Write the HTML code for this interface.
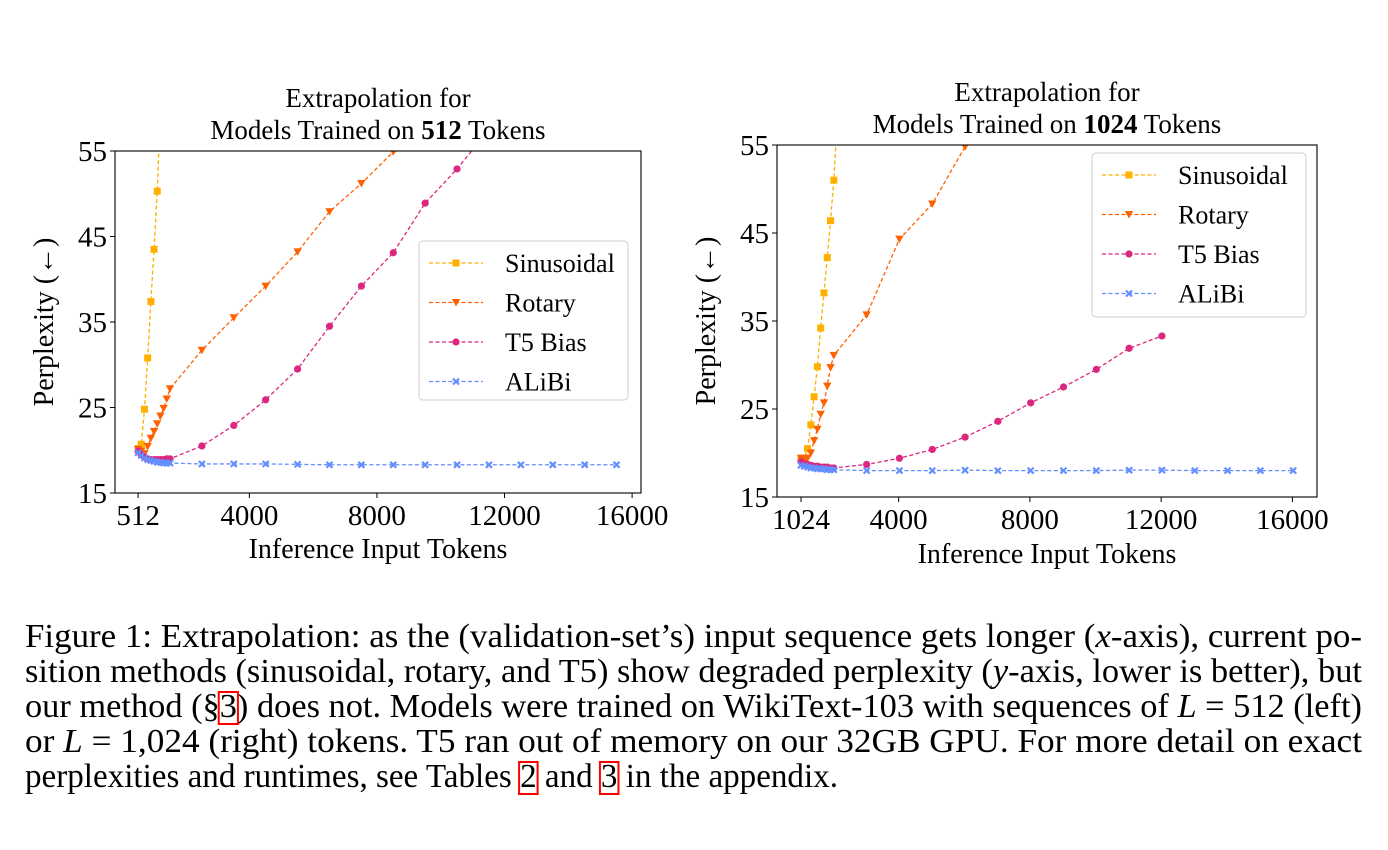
<!DOCTYPE html>
<html><head><meta charset="utf-8"><style>
html,body{margin:0;padding:0;background:#fff;}
svg{display:block;font-family:"Liberation Serif","Times New Roman",serif;}
svg text{font-family:"Liberation Serif","Times New Roman",serif;}
</style></head><body>
<svg id="fig" width="1388" height="850" viewBox="0 0 1388 850">
<g id="capg"></g>
</svg>
<script>
// ---- Left panel data (trained on 512) ----
const L_sinX = [512,612,712,812,912,1012,1112,1212];
const L_sinY = [20.2,20.7,24.8,30.8,37.4,43.5,50.3,60];
const L_rotX = [512,612,712,812,912,1012,1112,1212,1312,1412,1512,2512,3512,4512,5512,6512,7512,8512,9512];
const L_rotY = [20.1,19.9,19.6,20.45,21.4,22.2,23.1,24.0,24.9,26.0,27.2,31.7,35.5,39.2,43.2,47.9,51.2,54.9,59];
const L_t5X = [512,612,712,812,912,1012,1112,1212,1312,1412,1512,2512,3512,4512,5512,6512,7512,8512,9512,10512,11512];
const L_t5Y = [19.9,19.5,19.2,19.0,18.9,18.9,18.9,18.9,18.9,19.0,19.0,20.5,22.9,25.9,29.5,34.5,39.2,43.1,48.9,52.9,57.5];
const L_aliX = [512,612,712,812,912,1012,1112,1212,1312,1412,1512,2512,3512,4512,5512,6512,7512,8512,9512,10512,11512,12512,13512,14512,15512];
const L_aliY = [19.7,19.4,19.1,18.9,18.8,18.7,18.6,18.6,18.5,18.5,18.5,18.4,18.4,18.4,18.35,18.3,18.3,18.3,18.3,18.3,18.3,18.3,18.3,18.3,18.3];
// ---- Right panel data (trained on 1024) ----
const R_sinX = [1024,1124,1224,1324,1424,1524,1624,1724,1824,1924,2024,2124];
const R_sinY = [19.4,19.4,20.5,23.2,26.4,29.8,34.2,38.2,42.2,46.4,51.0,57.5];
const R_rotX = [1024,1124,1224,1324,1424,1524,1624,1724,1824,1924,2024,3024,4024,5024,6024,7024];
const R_rotY = [19.4,19.4,19.4,20.0,21.4,22.7,24.4,25.7,27.6,29.7,31.1,35.7,44.3,48.3,54.8,61];
const R_t5X = [1024,1124,1224,1324,1424,1524,1624,1724,1824,1924,2024,3024,4024,5024,6024,7024,8024,9024,10024,11024,12024];
const R_t5Y = [19.0,18.8,18.7,18.6,18.5,18.5,18.4,18.4,18.4,18.3,18.3,18.7,19.4,20.4,21.8,23.6,25.7,27.5,29.5,31.9,33.3];
const R_aliX = [1024,1124,1224,1324,1424,1524,1624,1724,1824,1924,2024,3024,4024,5024,6024,7024,8024,9024,10024,11024,12024,13024,14024,15024,16024];
const R_aliY = [18.6,18.5,18.4,18.3,18.3,18.2,18.2,18.2,18.1,18.1,18.1,18.0,18.0,18.0,18.05,18.0,18.0,18.0,18.0,18.05,18.05,18.0,18.0,18.0,18.0];
const yTicks = [15,25,35,45,55];
const L_xTicks = [512,4000,8000,12000,16000];
const R_xTicks = [1024,4000,8000,12000,16000];
const seriesNames = ["Sinusoidal","Rotary","T5 Bias","ALiBi"];
const colors = ["#FFB000","#FE6100","#DC267F","#648FFF"];
const markers = ["square","tri","circle","x"];

const NS="http://www.w3.org/2000/svg";
const svg=document.getElementById('fig');
function mk(tag,attrs,parent){const e=document.createElementNS(NS,tag);for(const k in attrs)e.setAttribute(k,attrs[k]);(parent||svg).appendChild(e);return e;}
function txt(s,attrs,parent){const e=mk('text',attrs,parent);e.textContent=s;return e;}

function drawMarker(g,type,x,y,c){
  let m;
  if(type==="square") m=mk('rect',{x:x-3.5,y:y-3.5,width:7,height:7,fill:c},g);
  else if(type==="tri") m=mk('polygon',{points:`${x-4.2},${y-3.5} ${x+4.2},${y-3.5} ${x},${y+4}`,fill:c},g);
  else if(type==="circle") m=mk('circle',{cx:x,cy:y,r:3.6,fill:c},g);
  else { m=mk('path',{d:`M${x-3},${y-3}L${x+3},${y+3}M${x-3},${y+3}L${x+3},${y-3}`,stroke:c,'stroke-width':2.2},g); }
  
  
}

function panel(cfg){
  const {id,box,xmin,xmax,px0,px1,xTicks,series,title2bold,titleY,xlabY,legend}=cfg;
  const g=mk('g',{});
  
  
  const xs=v=>px0+(v-xmin)/(xmax-xmin)*(px1-px0);
  const ys=v=>box.b-(v-15)/(55-15)*(box.b-box.t);
  const cid='clip-'+id;
  const cp=mk('clipPath',{id:cid},g);mk('rect',{x:box.l,y:box.t,width:box.r-box.l,height:box.b-box.t},cp);
  const cx=(box.l+box.r)/2;
  const t1=txt('Extrapolation for',{x:cx,y:titleY,'text-anchor':'middle','font-size':27},g);
  
  const t2=mk('text',{x:cx,y:titleY+32,'text-anchor':'middle','font-size':27},g);
  
  t2.innerHTML='Models Trained on <tspan font-weight="bold">'+title2bold+'</tspan> Tokens';
  const sg=mk('g',{'clip-path':`url(#${cid})`},g);
  series.forEach((s,i)=>{
    const pts=s.x.map((v,j)=>xs(v).toFixed(2)+','+ys(s.y[j]).toFixed(2)).join(' ');
    const pl=mk('polyline',{points:pts,fill:'none',stroke:colors[i],'stroke-width':1.3,'stroke-dasharray':'4,2.5'},sg);
    
    
    s.x.forEach((v,j)=>drawMarker(sg,markers[i],xs(v),ys(s.y[j]),colors[i]));
  });
  const ax=mk('rect',{x:box.l,y:box.t,width:box.r-box.l,height:box.b-box.t,fill:'none',stroke:'#000','stroke-width':1.1},g);
  
  yTicks.forEach(v=>{
    const y=ys(v);
    mk('line',{x1:box.l-5,x2:box.l,y1:y,y2:y,stroke:'#000','stroke-width':1},g);
    const t=txt(String(v),{x:box.l-8,y:y+10,'text-anchor':'end','font-size':29},g);
    
  });
  xTicks.forEach(v=>{
    const x=xs(v);
    mk('line',{x1:x,x2:x,y1:box.b,y2:box.b+5,stroke:'#000','stroke-width':1},g);
    const t=txt(String(v),{x:x,y:box.b+32,'text-anchor':'middle','font-size':29},g);
    
  });
  const xl=txt('Inference Input Tokens',{x:cx,y:xlabY,'text-anchor':'middle','font-size':28},g);
  
  const yc=(box.t+box.b)/2, yx=box.l-62;
  const yl=txt('Perplexity (\u2190)',{x:yx,y:yc,'text-anchor':'middle','font-size':28,transform:`rotate(-90 ${yx} ${yc})`},g);
  
  const lg=mk('g',{},g);
  
  mk('rect',{x:legend.x,y:legend.y,width:legend.w,height:legend.h,rx:4,fill:'#fff','fill-opacity':0.85,stroke:'#ccc','stroke-width':1},lg);
  seriesNames.forEach((n,i)=>{
    const y=legend.y+22+i*39.5;
    const e=mk('g',{},lg);
    
    mk('line',{x1:legend.x+10,x2:legend.x+64,y1:y,y2:y,stroke:colors[i],'stroke-width':1.3,'stroke-dasharray':'4,2.5'},e);
    drawMarker(e,markers[i],legend.x+37,y,colors[i]);
    txt(n,{x:legend.x+86,y:y+9,'font-size':26},e);
  });
}

panel({id:'left-chart',box:{l:115,r:641,t:151,b:493},xmin:512,xmax:16000,px0:138.1,px1:632.1,xTicks:L_xTicks,
  series:[{x:L_sinX,y:L_sinY},{x:L_rotX,y:L_rotY},{x:L_t5X,y:L_t5Y},{x:L_aliX,y:L_aliY}],
  title2bold:'512',titleY:107,xlabY:558,legend:{x:419,y:241,w:209,h:159}});
panel({id:'right-chart',box:{l:777,r:1317,t:145,b:497},xmin:1024,xmax:16000,px0:801,px1:1292.4,xTicks:R_xTicks,
  series:[{x:R_sinX,y:R_sinY},{x:R_rotX,y:R_rotY},{x:R_t5X,y:R_t5Y},{x:R_aliX,y:R_aliY}],
  title2bold:'1024',titleY:101,xlabY:563,legend:{x:1092,y:153,w:214,h:164}});

// caption
const cap=document.getElementById('capg');
const lines=[
 ['Figure 1: Extrapolation: as the (validation-set\u2019s) input sequence gets longer (<tspan font-style="italic">x</tspan>-axis), current po-',1337],
 ['sition methods (sinusoidal, rotary, and T5) show degraded perplexity (<tspan font-style="italic">y</tspan>-axis, lower is better), but',1337],
 ['our method (\u00a7<tspan id="ref1">3</tspan>) does not. Models were trained on WikiText-103 with sequences of <tspan font-style="italic">L</tspan> = 512 (left)',1337],
 ['or <tspan font-style="italic">L</tspan> = 1,024 (right) tokens.  T5 ran out of memory on our 32GB GPU. For more detail on exact',1337],
 ['perplexities and runtimes, see Tables <tspan id="ref2">2</tspan> and <tspan id="ref3">3</tspan> in the appendix.',813]
];
lines.forEach((l,i)=>{
  const t=mk('text',{x:25,y:647+i*35,'font-size':34,textLength:l[1],lengthAdjust:'spacingAndGlyphs'},cap);
  t.innerHTML=l[0];
  
  
});
['ref1','ref2','ref3'].forEach(id=>{
  const ts=document.getElementById(id);
  const b=ts.getBBox();
  const r=mk('rect',{x:b.x-1,y:b.y+4,width:b.width+2,height:b.height-5,fill:'none',stroke:'#f00','stroke-width':2},cap);
  
  
});
</script>
</body></html>
